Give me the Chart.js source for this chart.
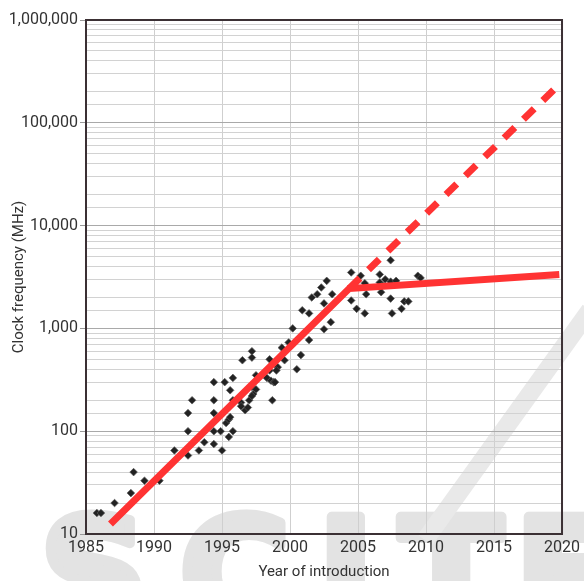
<!DOCTYPE html>
<html>
<head>
<meta charset="utf-8">
<script src="https://cdn.jsdelivr.net/npm/chart.js@4/dist/chart.umd.min.js"></script>
<style>
  html, body { margin: 0; padding: 0; background: #fff; }
  #wrap { width: 584px; height: 581px; }
</style>
</head>
<body>
<div id="wrap"><canvas id="clockChart" width="584" height="581"></canvas></div>
<script>
// processors: year of introduction and clock frequency (MHz)
const cpuYears = [
  1985.8, 1986.1, 1987.1, 1988.3, 1988.5, 1989.3, 1990.4, 1991.5, 1992.5, 1992.5,
  1992.5, 1992.8, 1993.3, 1993.7, 1994.4, 1994.4, 1994.4, 1994.4, 1994.4, 1994.9,
  1995.0, 1995.2, 1995.3, 1995.5, 1995.5, 1995.6, 1995.8, 1995.8, 1995.8, 1996.4,
  1996.5, 1996.7, 1997.0, 1997.2, 1997.2, 1997.2, 1997.3, 1996.9, 1998.3, 1998.5,
  1998.6, 1998.7, 1998.8, 1999.1, 1999.4, 1999.6, 1999.9, 2000.2, 2000.5, 2000.8,
  2000.9, 2001.4, 2001.4, 2001.6, 2002.0, 2002.3, 2002.5, 2002.5, 2002.7, 2003.0,
  2003.1, 2004.5, 2004.5, 2004.9, 2005.2, 2005.5, 2005.6, 2005.5, 2006.6, 2006.6,
  2006.8, 2007.0, 2006.7, 2007.4, 2007.4, 2007.8, 2007.4, 2007.5, 2008.2, 2008.4,
  2008.7, 2009.4, 2009.6, 1995.6, 1996.4, 1997.2, 1997.5, 1997.5, 1998.5, 1999.0,
  1998.9
];
const cpuMHz = [
  16, 16, 20, 25, 40, 33, 33, 65, 100, 58,
  150, 200, 65, 78, 100, 75, 150, 200, 300, 100,
  65, 300, 120, 130, 88, 250, 100, 330, 200, 190,
  490, 160, 200, 600, 520, 270, 230, 170, 330, 500,
  310, 200, 300, 420, 650, 490, 730, 1000, 400, 550,
  1500, 1400, 770, 2000, 2150, 2500, 1750, 980, 2900, 1150,
  2150, 3500, 1870, 1550, 3250, 2750, 2150, 1400, 3350, 2800,
  2600, 3000, 2250, 4600, 2850, 2900, 1950, 1400, 1550, 1830,
  1830, 3250, 3100, 137, 175, 220, 255, 350, 390, 390,
  300
];

// fitted trend (solid) and projected trend (dashed)
const trendYears = [1986.8, 2004.35, 2019.8];
const trendMHz = [12.5, 2440, 3340];
const projYears = [2004.35, 2019.4];
const projMHz = [2440, 210000];

const yearTicks = [1985, 1990, 1995, 2000, 2005, 2010, 2015, 2020];

const toPoints = (xs, ys) => xs.map((x, i) => ({ x: x, y: ys[i] }));
const isDecade = v => Math.abs(Math.log10(v) - Math.round(Math.log10(v))) < 1e-9;

const labelFont = { family: "Roboto, sans-serif", size: 16 };
const titleFont = { family: "Roboto, sans-serif", size: 15 };

// faint watermark behind the plot
const watermark = {
  id: 'watermark',
  beforeDraw(chart) {
    const c = chart.ctx;
    c.save();
    c.fillStyle = '#e3e3e3';
    c.strokeStyle = '#e3e3e3';
    c.lineWidth = 10;
    c.lineJoin = 'round';
    c.font = "bold 150px 'DejaVu Sans', sans-serif";
    c.textBaseline = 'top';
    [['S', 40], ['C', 180], ['I', 318], ['T', 400], ['E', 515]].forEach(([ch, x]) => {
      c.fillText(ch, x, 512);
      c.strokeText(ch, x, 512);
    });
    c.strokeStyle = '#e9e9e9';
    c.lineWidth = 18;
    c.beginPath();
    c.moveTo(425, 540);
    c.lineTo(590, 310);
    c.stroke();
    c.restore();
  }
};

// dark frame round the plot area
const frame = {
  id: 'frame',
  afterDraw(chart) {
    const a = chart.chartArea;
    const c = chart.ctx;
    c.save();
    c.strokeStyle = '#3b3034';
    c.lineWidth = 2;
    c.strokeRect(a.left, a.top, a.right - a.left, a.bottom - a.top);
    c.restore();
  }
};

const ctx = document.getElementById('clockChart').getContext('2d');
new Chart(ctx, {
  type: 'scatter',
  data: {
    datasets: [
      {
        label: 'Projected',
        data: toPoints(projYears, projMHz),
        showLine: true,
        borderColor: '#ff3333',
        borderWidth: 7,
        borderDash: [15, 12],
        borderCapStyle: 'butt',
        pointRadius: 0,
        fill: false
      },
      {
        label: 'Trend',
        data: toPoints(trendYears, trendMHz),
        showLine: true,
        borderColor: '#ff3333',
        borderWidth: 7,
        borderCapStyle: 'butt',
        borderJoinStyle: 'miter',
        pointRadius: 0,
        fill: false
      },
      {
        label: 'Processors',
        data: toPoints(cpuYears, cpuMHz),
        pointStyle: 'rectRot',
        pointRadius: 3.8,
        backgroundColor: '#222',
        borderColor: 'rgba(90,90,90,0.7)',
        borderWidth: 1
      }
    ]
  },
  options: {
    responsive: false,
    animation: false,
    devicePixelRatio: 1,
    layout: { padding: { top: 20, right: 21, left: 0, bottom: 0 } },
    plugins: {
      legend: { display: false },
      tooltip: { enabled: false }
    },
    scales: {
      x: {
        type: 'linear',
        min: 1985,
        max: 2020,
        afterBuildTicks: scale => { scale.ticks = yearTicks.map(v => ({ value: v })); },
        ticks: {
          callback: v => String(v),
          color: '#333',
          font: labelFont,
          padding: 4,
          maxRotation: 0
        },
        grid: { color: '#cfcfcf', lineWidth: 1, drawTicks: false },
        border: { display: false },
        title: {
          display: true,
          text: 'Year of introduction',
          color: '#333',
          font: titleFont,
          padding: { top: 0, bottom: 0 }
        },
        afterFit: scale => { scale.height = 47; }
      },
      y: {
        type: 'logarithmic',
        min: 10,
        max: 1000000,
        ticks: {
          autoSkip: false,
          color: '#333',
          font: labelFont,
          padding: 2,
          callback: v => isDecade(v) ? Number(v).toLocaleString('en-US') : ''
        },
        grid: {
          color: c => isDecade(c.tick.value) ? '#a9a9a9' : '#d2d2d2',
          tickColor: c => isDecade(c.tick.value) ? '#999' : 'rgba(0,0,0,0)',
          tickLength: 6,
          lineWidth: 1
        },
        border: { display: false },
        title: {
          display: true,
          text: 'Clock frequency (MHz)',
          color: '#333',
          font: titleFont,
          padding: { top: 10, bottom: 0 }
        },
        afterFit: scale => { scale.width = 86; }
      }
    }
  },
  plugins: [watermark, frame]
});
</script>
</body>
</html>
